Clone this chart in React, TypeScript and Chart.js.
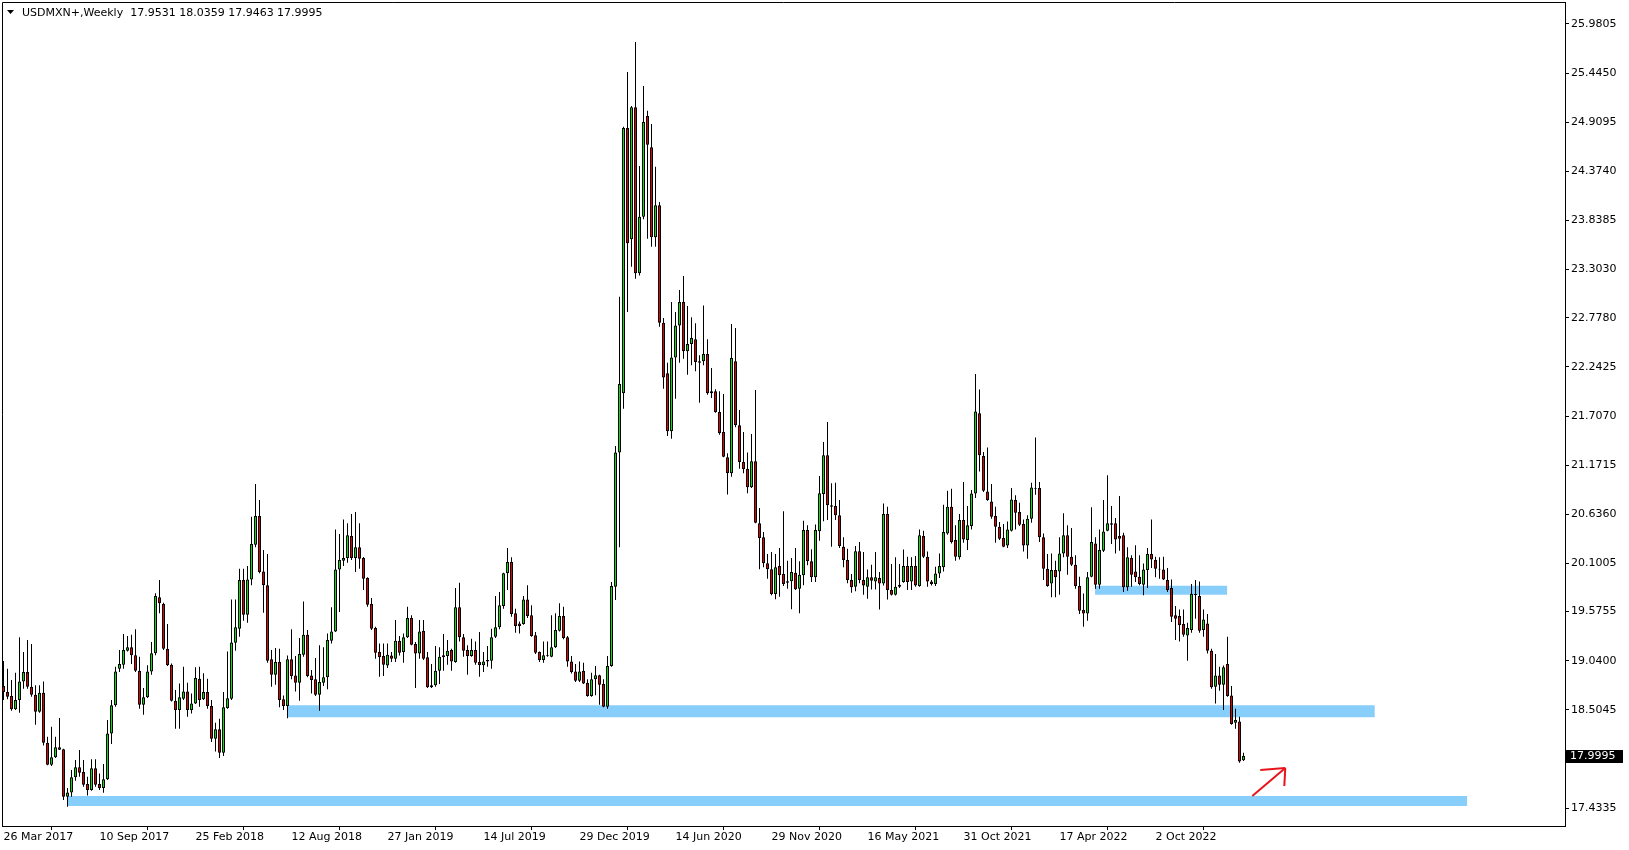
import React, { useEffect, useRef } from 'react';
import { Chart, registerables } from 'chart.js';

Chart.register(...registerables);

const FONT = 'DejaVu Sans';
const symbol = 'USDMXN+';
const period = 'Weekly';

const opens = [
  18.763,18.698,18.654,18.509,18.611,18.814,18.916,18.756,18.669,18.484,
  18.691,18.146,17.906,17.986,18.095,18.073,17.557,17.604,17.768,17.877,
  17.826,17.695,17.630,17.866,17.695,17.651,17.746,18.247,18.553,18.952,
  18.996,19.149,19.185,19.098,18.931,18.560,18.640,18.923,19.120,19.730,
  19.657,19.170,18.996,18.603,18.502,18.625,18.705,18.502,18.574,18.843,
  18.618,18.698,18.545,18.189,18.291,18.036,18.523,18.625,19.236,19.388,
  19.919,19.541,19.926,20.304,20.617,20.013,19.861,19.054,18.887,19.025,
  18.618,18.545,19.054,18.879,18.799,19.105,19.323,18.879,18.836,18.669,
  18.799,18.858,19.257,19.359,20.035,20.130,20.159,20.398,20.159,20.275,
  20.159,19.941,19.657,19.396,19.134,19.090,18.988,19.097,19.061,19.257,
  19.134,19.294,19.505,19.221,19.119,19.366,19.076,18.749,18.771,18.930,
  19.076,19.090,19.156,19.025,19.621,19.294,19.156,19.090,19.156,19.025,
  18.989,19.032,19.039,19.301,19.403,19.635,19.992,20.115,19.556,19.446,
  19.439,19.708,19.534,19.316,19.134,19.047,19.090,19.083,19.185,19.367,
  19.526,19.294,19.032,18.923,18.821,18.931,18.800,18.654,18.836,18.880,
  18.785,18.538,18.981,19.846,21.310,21.954,24.847,23.633,25.072,23.262,
  23.880,24.977,24.636,23.655,24.004,22.724,22.172,21.540,22.346,22.695,
  22.950,22.412,22.492,22.543,22.303,22.303,22.383,21.954,21.976,21.750,
  21.533,21.257,21.082,22.303,21.606,21.206,21.133,20.930,21.213,20.537,
  20.385,20.101,20.036,19.767,20.072,19.985,19.890,19.905,19.999,19.825,
  19.970,20.464,20.123,19.948,20.450,20.857,21.278,20.733,20.726,20.624,
  20.283,20.137,19.919,19.847,20.232,19.919,19.846,19.948,19.904,19.940,
  19.882,20.638,19.810,19.759,19.846,19.897,20.071,19.904,20.071,19.853,
  20.398,20.173,19.904,19.875,19.991,20.057,20.427,20.718,20.355,20.166,
  20.573,20.355,20.507,20.863,21.736,21.270,20.885,20.776,20.616,20.500,
  20.376,20.296,20.456,20.791,20.660,20.529,20.296,20.587,20.914,20.922,
  20.384,20.042,19.882,20.028,20.013,20.209,20.406,20.173,20.086,19.853,
  19.592,19.555,19.955,20.318,19.868,20.238,20.457,20.537,20.537,20.398,
  20.406,19.839,20.159,20.013,19.955,19.868,20.028,20.202,20.137,20.042,
  20.035,19.919,19.831,19.534,19.526,19.439,19.315,19.374,19.766,19.744,
  19.374,19.446,19.148,18.756,18.879,18.778,19.003,18.661,18.363,18.378,
  17.9531,
];

const highs = [
  19.036,18.952,18.829,18.909,19.294,19.134,19.265,19.221,18.771,18.771,
  18.814,18.211,18.320,18.211,18.414,18.080,17.651,17.848,17.957,18.066,
  17.957,17.775,17.964,17.964,17.811,17.913,18.393,18.611,18.974,19.156,
  19.330,19.308,19.323,19.381,19.083,18.742,18.989,19.243,19.774,19.919,
  19.672,19.439,19.010,18.720,18.792,18.974,18.800,18.683,18.967,18.974,
  18.902,18.843,18.611,18.364,18.407,18.698,19.141,19.708,19.708,20.042,
  20.042,20.071,20.609,20.965,20.791,20.246,20.202,19.156,19.177,19.170,
  18.661,19.097,19.381,19.090,19.287,19.686,19.374,18.938,19.068,19.207,
  19.185,19.337,19.621,20.471,20.420,20.580,20.537,20.638,20.660,20.537,
  20.170,19.948,19.723,19.410,19.228,19.228,19.228,19.134,19.483,19.308,
  19.337,19.628,19.534,19.243,19.483,19.483,19.134,19.003,19.199,19.185,
  19.330,19.265,19.170,19.832,19.890,19.330,19.207,19.279,19.250,19.352,
  19.134,19.199,19.388,19.744,19.788,19.999,20.268,20.166,19.606,19.468,
  19.744,19.861,19.643,19.352,19.141,19.250,19.250,19.534,19.556,19.665,
  19.628,19.308,19.090,19.003,19.032,19.018,18.836,18.909,18.981,18.887,
  18.836,19.090,19.897,21.380,23.008,24.861,25.457,25.086,25.784,24.432,
  25.305,25.036,24.890,24.425,24.040,22.775,22.288,22.950,22.841,23.081,
  23.233,22.906,22.783,22.717,22.368,22.913,22.543,22.230,21.998,21.976,
  21.947,21.300,22.710,22.667,21.773,21.533,21.308,21.511,21.991,20.704,
  20.443,20.203,20.225,20.203,20.268,20.668,20.130,20.159,20.268,20.123,
  20.566,20.515,20.254,20.523,21.053,21.424,21.642,20.973,20.980,20.792,
  20.384,20.261,19.985,20.290,20.334,20.224,20.035,20.086,20.224,20.006,
  20.754,20.718,20.093,20.166,20.093,20.253,20.173,20.166,20.180,20.471,
  20.456,20.231,19.919,20.064,20.209,20.740,20.892,20.914,20.515,20.638,
  20.987,20.725,20.900,22.164,21.997,21.314,21.365,20.965,20.718,20.551,
  20.529,20.558,20.922,20.842,20.762,20.580,20.624,20.980,21.474,20.987,
  20.427,20.202,20.209,20.129,20.384,20.646,20.515,20.486,20.188,19.955,
  19.773,20.006,20.711,20.384,20.471,20.791,21.060,20.725,20.595,20.834,
  20.435,20.275,20.188,20.297,20.188,20.100,20.268,20.580,20.173,20.166,
  20.173,20.050,19.926,19.635,19.599,19.599,19.454,19.875,19.919,19.904,
  19.599,19.548,19.170,19.112,18.974,18.988,19.301,18.763,18.516,18.429,
  18.0359,
];

const lows = [
  18.611,18.618,18.494,18.502,18.473,18.734,18.734,18.647,18.342,18.473,
  18.116,17.899,17.891,17.978,18.066,17.521,17.448,17.557,17.731,17.775,
  17.666,17.571,17.622,17.666,17.630,17.601,17.739,18.131,18.538,18.916,
  18.952,19.141,19.003,18.916,18.516,18.451,18.633,18.887,19.098,19.556,
  19.156,18.981,18.596,18.298,18.298,18.611,18.429,18.465,18.567,18.538,
  18.611,18.516,18.153,18.051,17.980,18.000,18.516,18.611,19.148,19.301,
  19.475,19.454,19.861,20.275,19.992,19.563,19.018,18.756,18.778,18.531,
  18.502,18.411,18.836,18.705,18.603,19.083,18.858,18.683,18.654,18.494,
  18.763,18.727,19.228,19.352,19.570,20.071,20.108,20.137,20.006,20.042,
  19.810,19.628,19.374,19.061,18.865,18.872,18.959,19.025,19.025,19.097,
  19.018,19.287,19.207,18.741,19.061,19.047,18.741,18.741,18.756,18.785,
  18.930,18.996,18.930,19.018,19.250,19.083,18.887,19.083,18.996,18.865,
  18.916,18.974,18.952,19.287,19.381,19.606,19.810,19.519,19.345,19.337,
  19.432,19.505,19.301,19.112,19.025,19.018,19.083,19.076,19.178,19.359,
  19.272,18.974,18.901,18.807,18.807,18.785,18.647,18.647,18.662,18.560,
  18.531,18.516,18.974,19.700,20.275,21.787,22.841,23.335,23.204,23.240,
  23.851,23.640,23.553,23.553,22.681,22.005,21.489,21.460,21.896,22.288,
  22.332,22.157,22.259,22.194,21.852,22.259,21.939,21.903,21.743,21.503,
  21.257,20.850,21.046,21.584,21.133,21.082,20.864,20.922,20.537,20.036,
  20.057,19.934,19.752,19.709,19.738,19.854,19.825,19.600,19.810,19.556,
  19.861,20.079,19.898,19.898,20.348,20.559,20.574,20.283,20.574,20.268,
  20.057,19.883,19.781,19.796,19.883,19.759,19.715,19.817,19.817,19.599,
  19.860,19.708,19.751,19.751,19.831,19.889,19.810,19.810,19.846,19.846,
  20.158,19.846,19.860,19.853,19.940,20.013,20.413,20.318,20.129,20.144,
  20.326,20.246,20.471,20.813,21.103,20.878,20.784,20.587,20.326,20.355,
  20.275,20.267,20.449,20.471,20.507,20.231,20.151,20.544,20.849,20.333,
  19.919,19.846,19.730,19.730,19.759,20.166,19.977,20.071,19.824,19.548,
  19.410,19.475,19.948,19.824,19.824,20.224,20.450,20.311,20.209,20.238,
  19.788,19.802,19.846,19.897,19.861,19.752,19.832,20.050,19.948,19.933,
  19.919,19.788,19.461,19.265,19.250,19.301,19.039,19.345,19.497,19.345,
  19.301,19.119,18.734,18.574,18.712,18.502,18.647,18.342,18.298,17.927,
  17.9463,
];

const closes = [
  18.698,18.647,18.509,18.611,18.814,18.916,18.756,18.669,18.484,18.691,
  18.146,17.906,17.986,18.095,18.069,17.557,17.604,17.768,17.877,17.819,
  17.688,17.630,17.866,17.688,17.651,17.746,18.247,18.553,18.923,19.003,
  19.156,19.185,19.098,18.931,18.560,18.640,18.923,19.120,19.745,19.665,
  19.170,18.989,18.603,18.502,18.640,18.705,18.502,18.574,18.851,18.611,
  18.698,18.545,18.189,18.291,18.036,18.531,18.629,19.239,19.403,19.919,
  19.541,19.926,20.311,20.617,20.006,19.861,19.039,18.887,19.025,18.611,
  18.545,19.054,18.872,18.799,19.112,19.323,18.872,18.829,18.669,18.807,
  18.858,19.265,19.359,20.035,20.137,20.159,20.406,20.159,20.275,20.151,
  19.933,19.650,19.388,19.127,19.076,18.996,19.105,19.061,19.257,19.127,
  19.294,19.505,19.214,19.119,19.359,19.061,18.749,18.771,18.930,19.083,
  19.098,19.148,19.032,19.621,19.294,19.148,19.090,19.156,19.018,18.989,
  19.032,19.047,19.294,19.403,19.643,19.992,20.115,19.548,19.417,19.417,
  19.708,19.526,19.308,19.127,19.047,19.098,19.098,19.185,19.374,19.526,
  19.287,19.032,18.916,18.821,18.923,18.792,18.654,18.836,18.880,18.778,
  18.538,18.981,19.853,21.310,22.056,24.847,23.589,25.072,23.262,23.880,
  24.912,24.665,23.655,24.004,22.724,22.128,21.540,22.346,22.695,22.950,
  22.412,22.492,22.557,22.296,22.288,22.383,21.954,21.976,21.750,21.518,
  21.264,21.082,22.340,21.606,21.206,21.126,20.930,21.213,20.544,20.377,
  20.101,20.036,19.767,20.057,19.970,19.876,19.905,20.007,19.818,19.977,
  20.464,20.123,19.948,20.464,20.864,21.278,20.733,20.719,20.624,20.290,
  20.137,19.919,19.839,20.232,19.919,19.860,19.948,19.911,19.948,19.882,
  20.638,19.810,19.759,19.846,19.868,20.071,19.897,20.071,19.860,20.406,
  20.173,19.904,19.875,19.991,20.071,20.442,20.718,20.333,20.173,20.573,
  20.362,20.515,20.863,21.757,21.278,20.892,20.791,20.609,20.500,20.369,
  20.282,20.471,20.798,20.653,20.522,20.296,20.587,20.929,20.922,20.384,
  20.042,19.853,20.028,19.948,20.209,20.406,20.173,20.086,19.853,19.584,
  19.555,19.948,20.333,19.868,20.246,20.449,20.537,20.522,20.362,20.369,
  19.839,20.166,19.977,19.948,19.875,20.035,20.202,20.144,20.042,20.035,
  19.926,19.810,19.519,19.497,19.425,19.323,19.395,19.766,19.752,19.366,
  19.490,19.148,18.749,18.879,18.778,18.967,18.654,18.349,18.392,17.942,
  17.9995,
];

const dateLabels = [
  '26 Mar 2017', '10 Sep 2017', '25 Feb 2018', '12 Aug 2018', '27 Jan 2019',
  '14 Jul 2019', '29 Dec 2019', '14 Jun 2020', '29 Nov 2020', '16 May 2021',
  '31 Oct 2021', '17 Apr 2022', '2 Oct 2022',
];
const dateTickIndex = [0, 24, 48, 72, 96, 120, 144, 168, 192, 216, 240, 264, 288];

const priceTicks = [
  25.9805, 25.4450, 24.9095, 24.3740, 23.8385, 23.3030, 22.7780, 22.2425,
  21.7070, 21.1715, 20.6360, 20.1005, 19.5755, 19.0400, 18.5045, 17.9690, 17.4335,
];

// horizontal support/resistance zones (price level, first bar, last bar)
const zonePrice = [19.8065, 18.4876, 17.5096];
const zoneFrom = [272.9, 70.95, 15.95];
const zoneTo = [305.9, 342.8, 365.9];

// hand-drawn red arrow (bar index / price)
const arrowShaftX = [312.2, 320.45];
const arrowShaftY = [17.564, 17.869];
const arrowHeadLeftX = [314.2, 320.45];
const arrowHeadLeftY = [17.848, 17.869];
const arrowHeadDownX = [320.2, 320.45];
const arrowHeadDownY = [17.673, 17.869];

const X_MIN = -0.375;
const X_MAX = 390.375;
const Y_MIN = 17.2375;
const Y_MAX = 26.2203;

const decorPlugin = {
  id: 'mtDecor',
  afterDraw(chart: any) {
    const { ctx, chartArea: a, scales } = chart;
    const y = scales.y;
    ctx.save();
    ctx.strokeStyle = '#000';
    ctx.lineWidth = 1;
    ctx.beginPath();
    ctx.moveTo(a.left + 0.5, a.bottom);
    ctx.lineTo(a.left + 0.5, a.top + 0.5);
    ctx.lineTo(a.right, a.top + 0.5);
    ctx.stroke();

    const n = closes.length - 1;
    ctx.fillStyle = '#000';
    ctx.beginPath();
    ctx.moveTo(7, 10);
    ctx.lineTo(14, 10);
    ctx.lineTo(10.5, 14);
    ctx.closePath();
    ctx.fill();
    ctx.font = `11px "${FONT}"`;
    ctx.textBaseline = 'middle';
    ctx.textAlign = 'left';
    const header = `${symbol},${period}  ${opens[n].toFixed(4)} ${highs[n].toFixed(4)} ${lows[n].toFixed(4)} ${closes[n].toFixed(4)}`;
    ctx.fillText(header, 22, 13);

    const last = closes[n];
    const py = Math.round(y.getPixelForValue(last));
    ctx.fillStyle = '#000';
    ctx.fillRect(y.left + 1, py - 6, 57, 13);
    ctx.fillStyle = '#fff';
    ctx.fillText(last.toFixed(4), y.left + 5, py + 0.5);
    ctx.restore();
  },
};

export default function App() {
  const ref = useRef<HTMLCanvasElement | null>(null);

  useEffect(() => {
    if (!ref.current) return;
    const wickData = highs.map((h, i) => ({ x: i, y: [lows[i], h] }));
    const bodyData = opens.map((o, i) => ({ x: i, y: [Math.min(o, closes[i]), Math.max(o, closes[i])] }));
    const bodyColors = opens.map((o, i) => (closes[i] >= o ? '#00e600' : '#e00000'));
    const zoneWidths = [9, 12, 10];

    const zoneSets = zonePrice.map((p, k) => ({
      type: 'line' as const,
      data: [{ x: zoneFrom[k], y: p }, { x: zoneTo[k], y: p }],
      borderColor: '#87cefa',
      borderWidth: zoneWidths[k],
      borderCapStyle: 'butt' as const,
      pointRadius: 0,
      order: 3,
    }));

    const seg = (xs: number[], ys: number[]) => ({
      type: 'line' as const,
      data: [{ x: xs[0], y: ys[0] }, { x: xs[1], y: ys[1] }],
      borderColor: '#e8141b',
      borderWidth: 2,
      pointRadius: 0,
      order: 0,
    });

    const chart = new Chart(ref.current, {
      type: 'bar',
      data: {
        datasets: [
          {
            type: 'bar',
            data: bodyData as any,
            backgroundColor: bodyColors,
            borderColor: '#000',
            borderWidth: 1,
            borderSkipped: false,
            barThickness: 3,
            grouped: false,
            inflateAmount: 0,
            order: 1,
          } as any,
          {
            type: 'bar',
            data: wickData as any,
            backgroundColor: '#000',
            borderWidth: 0,
            barThickness: 1,
            grouped: false,
            inflateAmount: 0,
            order: 2,
          } as any,
          ...zoneSets,
          seg(arrowShaftX, arrowShaftY),
          seg(arrowHeadLeftX, arrowHeadLeftY),
          seg(arrowHeadDownX, arrowHeadDownY),
        ] as any,
      },
      options: {
        responsive: false,
        devicePixelRatio: 1,
        animation: false,
        events: [],
        layout: { padding: { left: 2, top: 2, right: 0, bottom: 0 } },
        plugins: { legend: { display: false }, tooltip: { enabled: false }, title: { display: false } },
        scales: {
          x: {
            type: 'linear',
            min: X_MIN,
            max: X_MAX,
            offset: false,
            afterBuildTicks: (s: any) => {
              s.ticks = dateTickIndex.map((v) => ({ value: v }));
            },
            afterFit: (s: any) => {
              s.height = 24;
              s.paddingLeft = 0;
              s.paddingRight = 0;
              s.paddingTop = 0;
              s.paddingBottom = 0;
            },
            ticks: {
              autoSkip: false,
              maxRotation: 0,
              minRotation: 0,
              align: 'start',
              padding: 1,
              color: '#000',
              font: { family: FONT, size: 11 },
              callback: (_v: any, i: number) => dateLabels[i] ?? '',
            },
            grid: { display: true, drawOnChartArea: false, drawTicks: true, tickLength: 4, color: '#000' },
            border: { display: true, color: '#000', width: 1 },
          },
          y: {
            type: 'linear',
            position: 'right',
            min: Y_MIN,
            max: Y_MAX,
            afterBuildTicks: (s: any) => {
              s.ticks = priceTicks.map((v) => ({ value: v }));
            },
            afterFit: (s: any) => {
              s.width = 64;
              s.paddingTop = 0;
              s.paddingBottom = 0;
              s.paddingLeft = 0;
              s.paddingRight = 0;
            },
            ticks: {
              autoSkip: false,
              padding: 2,
              color: '#000',
              font: { family: FONT, size: 11 },
              callback: (v: any) => Number(v).toFixed(4),
            },
            grid: { display: true, drawOnChartArea: false, drawTicks: true, tickLength: 4, color: '#000' },
            border: { display: true, color: '#000', width: 1 },
          },
        },
      } as any,
      plugins: [decorPlugin],
    });
    return () => chart.destroy();
  }, []);

  return (
    <div style={{ position: 'absolute', left: 0, top: 0, width: 1629, height: 850, background: '#fff' }}>
      <canvas ref={ref} width={1629} height={850} style={{ display: 'block' }} />
    </div>
  );
}
